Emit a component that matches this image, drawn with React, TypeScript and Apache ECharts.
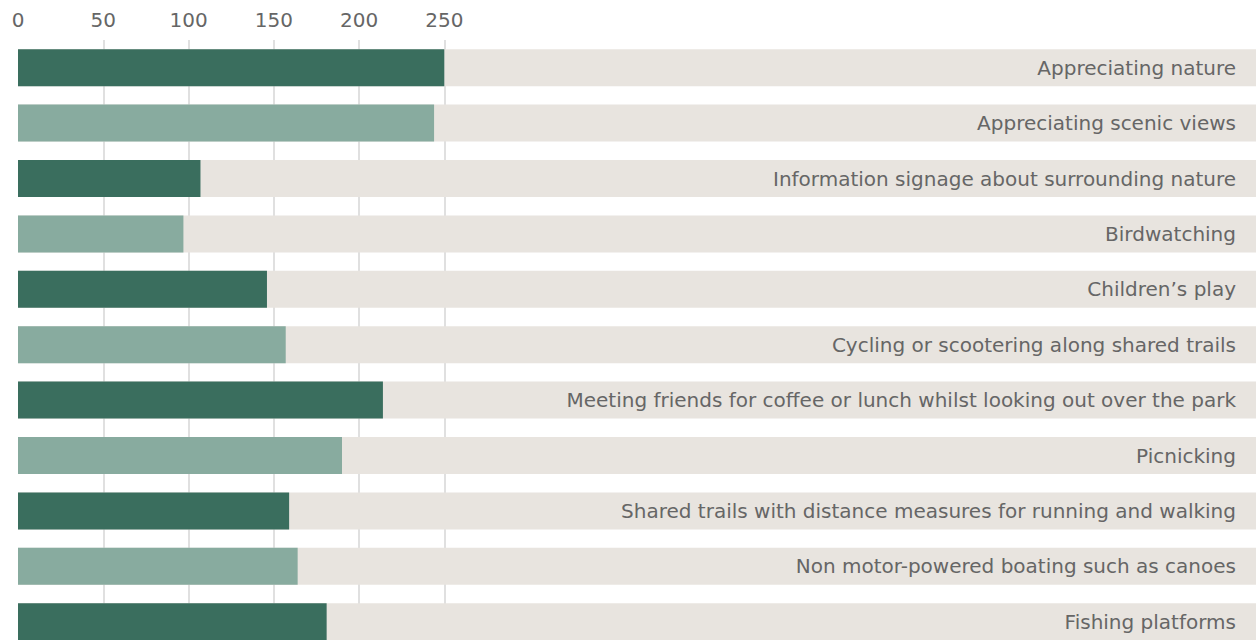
import React, { useEffect, useRef } from "react";
import * as echarts from "echarts";

const categories = [
  "Appreciating nature",
  "Appreciating scenic views",
  "Information signage about surrounding nature",
  "Birdwatching",
  "Children’s play",
  "Cycling or scootering along shared trails",
  "Meeting friends for coffee or lunch whilst looking out over the park",
  "Picnicking",
  "Shared trails with distance measures for running and walking",
  "Non motor-powered boating such as canoes",
  "Fishing platforms",
];

const values = [250, 244, 107, 97, 146, 157, 214, 190, 159, 164, 181];

const tickValues = [0, 50, 100, 150, 200, 250];

const DARK = "#3a6e5e";
const LIGHT = "#88ab9f";

export default function App() {
  const ref = useRef<HTMLDivElement>(null);
  useEffect(() => {
    if (!ref.current) return;
    const chart = echarts.init(ref.current, undefined, { renderer: "svg" });
    const font = "'DejaVu Sans', sans-serif";
    const lineColors: string[] = [];
    for (let i = 0; i < 20; i++) {
      lineColors.push(i >= 1 && i <= 5 ? "#d6d6d6" : "rgba(0,0,0,0)");
    }
    chart.setOption({
      animation: false,
      grid: { left: 18, right: 0, top: 40, height: 609.4, containLabel: false },
      xAxis: {
        type: "value",
        position: "top",
        min: 0,
        max: 726,
        interval: 50,
        axisLine: { show: false },
        axisTick: { show: false },
        axisLabel: {
          customValues: tickValues,
          formatter: (v: number) => (tickValues.indexOf(v) >= 0 ? String(v) : ""),
          color: "#666666",
          fontFamily: font,
          fontSize: 20,
          margin: 10,
        },
        splitLine: { show: true, lineStyle: { color: lineColors, width: 1.5 } },
      },
      yAxis: {
        type: "category",
        data: categories,
        inverse: true,
        position: "right",
        axisLine: { show: false },
        axisTick: { show: false },
        axisLabel: {
          inside: true,
          margin: 20,
          color: "#666666",
          fontFamily: font,
          fontSize: 20,
        },
        z: 5,
      },
      series: [
        {
          type: "bar",
          data: values.map((v, i) => ({
            value: v,
            itemStyle: { color: i % 2 === 0 ? DARK : LIGHT },
          })),
          barWidth: 37,
          showBackground: true,
          backgroundStyle: { color: "#e8e4df" },
        },
      ],
    });
    return () => chart.dispose();
  }, []);
  return (
    <div
      style={{
        position: "absolute",
        left: 0,
        top: 0,
        width: 1256,
        height: 640,
        overflow: "hidden",
      }}
    >
      <div ref={ref} style={{ width: 1256, height: 660 }} />
    </div>
  );
}
